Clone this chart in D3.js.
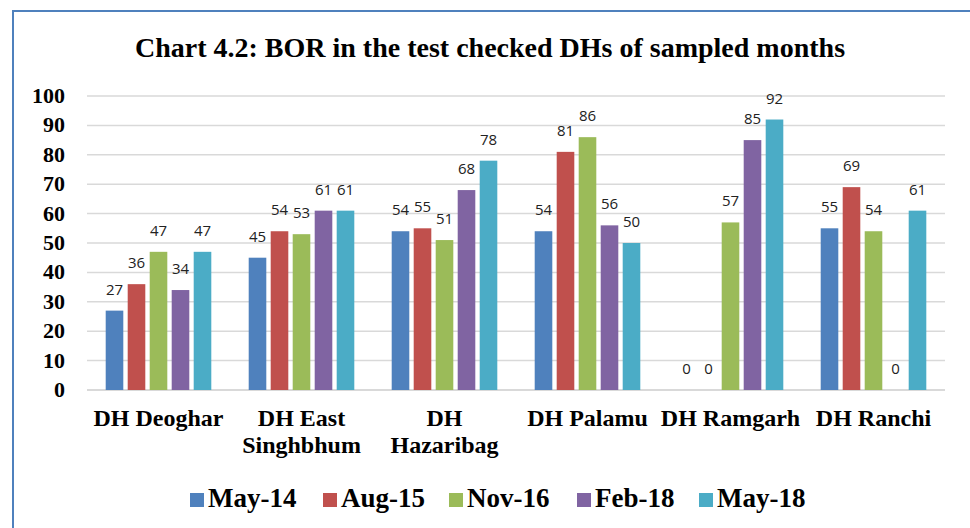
<!DOCTYPE html>
<html>
<head>
<meta charset="utf-8">
<script src="https://cdn.jsdelivr.net/npm/d3@7"></script>
<style>
  body { margin: 0; background: #fff; }
  svg { display: block; }
  .serif { font-family: 'Liberation Serif', 'Times New Roman', serif; font-weight: bold; }
  .lbl { font-family: 'Open Sans', 'Liberation Sans', sans-serif; }
</style>
</head>
<body>
<div id="chart"></div>
<script>
  // Chart data
  const districts = [['DH Deoghar'], ['DH East', 'Singhbhum'], ['DH', 'Hazaribag'], ['DH Palamu'], ['DH Ramgarh'], ['DH Ranchi']];
  const seriesNames = ['May-14', 'Aug-15', 'Nov-16', 'Feb-18', 'May-18'];
  const may14 = [27, 45, 54, 54, 0, 55];
  const aug15 = [36, 54, 55, 81, 0, 69];
  const nov16 = [47, 53, 51, 86, 57, 54];
  const feb18 = [34, 61, 68, 56, 85, 0];
  const may18 = [47, 61, 78, 50, 92, 61];
  const yTicks = [0, 10, 20, 30, 40, 50, 60, 70, 80, 90, 100];

  const colors = ['#4f81bd', '#c0504d', '#9bbb59', '#8064a2', '#4bacc6'];
  const allSeries = [may14, aug15, nov16, feb18, may18];

  const W = 970, H = 528;
  const svg = d3.select('#chart').append('svg')
    .attr('width', W)
    .attr('height', H);

  // outer frame (only left and top edges fall inside the picture)
  svg.append('rect')
    .attr('x', 13).attr('y', 11)
    .attr('width', 1000).attr('height', 600)
    .attr('fill', 'none')
    .attr('stroke', '#4f81bd')
    .attr('stroke-width', 2);

  svg.append('text')
    .attr('class', 'serif')
    .attr('x', 490)
    .attr('y', 57)
    .attr('text-anchor', 'middle')
    .style('font-size', '28px')
    .text('Chart 4.2: BOR in the test checked DHs of sampled months');

  const plotLeft = 87, plotRight = 945, plotTop = 96, plotBottom = 390;

  const y = d3.scaleLinear().domain([0, 100]).range([plotBottom, plotTop]);

  const keys = districts.map(d => d.join(' '));
  const x0 = d3.scaleBand()
    .domain(keys)
    .range([plotLeft, plotRight])
    .paddingInner(0.2)
    .paddingOuter(0.1);

  const x1 = d3.scaleBand()
    .domain(seriesNames)
    .range([0, x0.bandwidth()])
    .padding(0.2);

  // gridlines
  svg.append('g')
    .selectAll('line')
    .data(yTicks)
    .enter()
    .append('line')
    .attr('x1', plotLeft)
    .attr('x2', plotRight)
    .attr('y1', d => y(d))
    .attr('y2', d => y(d))
    .attr('stroke', '#d9d9d9')
    .attr('stroke-width', d => d === 0 ? 2 : 1.5);

  // y tick labels
  svg.append('g')
    .selectAll('text')
    .data(yTicks)
    .enter()
    .append('text')
    .attr('class', 'serif')
    .attr('x', 65)
    .attr('y', d => y(d) + 7)
    .attr('text-anchor', 'end')
    .style('font-size', '22px')
    .text(d => d);

  // bars
  seriesNames.forEach((name, si) => {
    const g = svg.append('g');
    const vals = allSeries[si];
    g.selectAll('rect')
      .data(vals)
      .enter()
      .append('rect')
      .attr('x', (d, i) => x0(keys[i]) + x1(name))
      .attr('y', d => y(d))
      .attr('width', x1.bandwidth())
      .attr('height', d => y(0) - y(d))
      .attr('fill', colors[si]);

    g.selectAll('text')
      .data(vals)
      .enter()
      .append('text')
      .attr('class', 'lbl')
      .attr('x', (d, i) => x0(keys[i]) + x1(name) + x1.bandwidth() / 2)
      .attr('y', d => y(d) - 16)
      .attr('text-anchor', 'middle')
      .style('font-size', '15px')
      .style('fill', '#222')
      .text(d => d);
  });

  // x category labels
  const xl = svg.append('g');
  districts.forEach((lines, i) => {
    const t = xl.append('text')
      .attr('class', 'serif')
      .attr('x', x0(keys[i]) + x0.bandwidth() / 2)
      .attr('y', 426)
      .attr('text-anchor', 'middle')
      .style('font-size', '24px');
    lines.forEach((ln, j) => {
      t.append('tspan')
        .attr('x', x0(keys[i]) + x0.bandwidth() / 2)
        .attr('dy', j === 0 ? 0 : 27)
        .text(ln);
    });
  });

  // legend
  const legendX = [190, 323, 449, 577, 699];
  const legend = svg.append('g');
  seriesNames.forEach((name, i) => {
    legend.append('rect')
      .attr('x', legendX[i])
      .attr('y', 493)
      .attr('width', 14)
      .attr('height', 14)
      .attr('fill', colors[i]);
    legend.append('text')
      .attr('class', 'serif')
      .attr('x', legendX[i] + 18)
      .attr('y', 507)
      .style('font-size', '27px')
      .text(name);
  });
</script>
</body>
</html>
